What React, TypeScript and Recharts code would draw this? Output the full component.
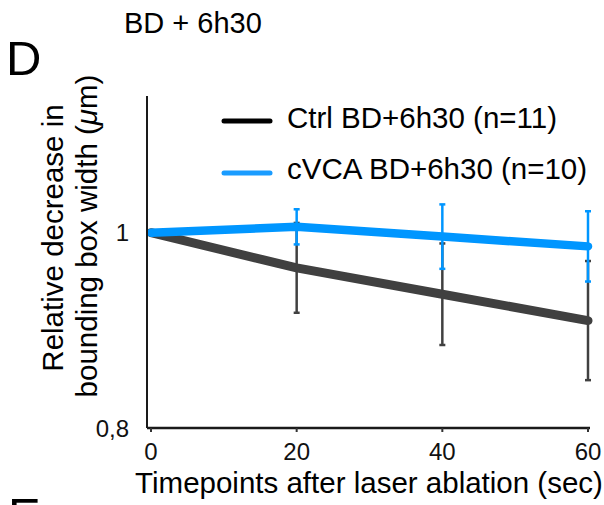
import React from 'react';
import { LineChart, Line, XAxis, YAxis, ErrorBar, Legend } from 'recharts';

const timepoints = [0, 20, 40, 60];
const ctrlValues = [1, 0.964, 0.937, 0.91];
const ctrlErrors = [0, 0.046, 0.052, 0.061];
const cvcaValues = [1, 1.006, 0.996, 0.986];
const cvcaErrors = [0, 0.018, 0.033, 0.036];
const xTicks = [0, 20, 40, 60];
const yTicks = [0.8, 1];
const yTickLabels = ['0,8', '1'];
const seriesNames = ['Ctrl BD+6h30 (n=11)', 'cVCA BD+6h30 (n=10)'];
const seriesColors = ['#404040', '#0096ff'];
const legendColors = ['#000000', '#1a9cff'];

const data = timepoints.map((t, i) => ({
  t,
  ctrl: ctrlValues[i],
  ctrlErr: ctrlErrors[i],
  cvca: cvcaValues[i],
  cvcaErr: cvcaErrors[i],
}));

const FONT = '"Liberation Sans", Arial, Helvetica, sans-serif';

const LegendContent = () => (
  <svg width={604} height={200} style={{ display: 'block' }}>
    {seriesNames.map((name, i) => (
      <g key={name}>
        <line x1={224} x2={270} y1={121 + i * 52} y2={121 + i * 52} stroke={legendColors[i]} strokeWidth={5} strokeLinecap="round" />
        <text x={287} y={128 + i * 51} fontSize={29.5} fontFamily={FONT} fill="#000">{name}</text>
      </g>
    ))}
  </svg>
);

export default function App() {
  return (
    <div style={{ position: 'absolute', left: 0, top: 0, width: 604, height: 505, background: '#fff', fontFamily: FONT }}>
      <LineChart width={604} height={505} data={data} margin={{ top: 96, right: 14, bottom: 76, left: 146 }}>
        <XAxis
          dataKey="t"
          type="number"
          domain={[0, 60]}
          ticks={xTicks}
          padding={{ left: 4, right: 2 }}
          height={1}
          tickSize={4}
          tickMargin={11}
          axisLine={{ stroke: '#1a1a1a', strokeWidth: 2.5 }}
          tickLine={{ stroke: '#333', strokeWidth: 2 }}
          tick={{ fill: '#111', fontSize: 24, fontFamily: FONT }}
          interval={0}
        />
        <YAxis
          type="number"
          domain={[0.8, 1.14]}
          ticks={yTicks}
          allowDataOverflow
          width={1}
          tickLine={false}
          tickSize={0}
          tickMargin={18}
          tickFormatter={(v: number) => yTickLabels[yTicks.indexOf(v)]}
          axisLine={{ stroke: '#1a1a1a', strokeWidth: 2 }}
          tick={{ fill: '#111', fontSize: 24, fontFamily: FONT }}
          interval={0}
        />
        <Legend
          layout="horizontal"
          verticalAlign="middle"
          align="center"
          wrapperStyle={{ left: 0, top: 0, width: 604, height: 200 }}
          content={LegendContent}
        />
        <Line
          dataKey="ctrl"
          name={seriesNames[0]}
          stroke={seriesColors[0]}
          strokeWidth={9}
          strokeLinecap="round"
          strokeLinejoin="round"
          dot={false}
          activeDot={false}
          isAnimationActive={false}
        >
          <ErrorBar dataKey="ctrlErr" direction="y" width={3} stroke={seriesColors[0]} strokeWidth={2.5} isAnimationActive={false} />
        </Line>
        <Line
          dataKey="cvca"
          name={seriesNames[1]}
          stroke={seriesColors[1]}
          strokeWidth={8.5}
          strokeLinecap="round"
          strokeLinejoin="round"
          dot={false}
          activeDot={false}
          isAnimationActive={false}
        >
          <ErrorBar dataKey="cvcaErr" direction="y" width={3} stroke={seriesColors[1]} strokeWidth={2.5} isAnimationActive={false} />
        </Line>
      </LineChart>
      <svg width={604} height={505} style={{ position: 'absolute', left: 0, top: 0, pointerEvents: 'none' }} fontFamily={FONT}>
        <text x={6} y={75} fontSize={49} fill="#000">D</text>
        <text x={124} y={33} fontSize={29} fill="#000">BD + 6h30</text>
        <text x={8} y={532} fontSize={49} fill="#000">E</text>
        <text transform="translate(63,238) rotate(-90)" textAnchor="middle" fontSize={29.5} fill="#000">Relative decrease in</text>
        <text transform="translate(97,236) rotate(-90)" textAnchor="middle" fontSize={29.5} fill="#000">
          bounding box width (<tspan fontStyle="italic">μ</tspan>m)
        </text>
        <text x={369} y={493} textAnchor="middle" fontSize={29.5} fill="#000">Timepoints after laser ablation (sec)</text>
      </svg>
    </div>
  );
}
